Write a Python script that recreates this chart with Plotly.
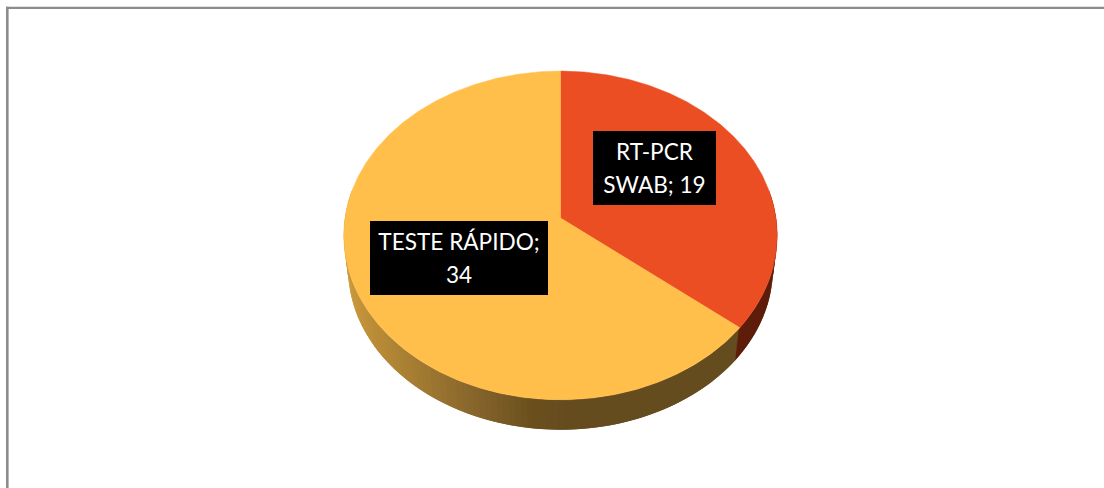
import math
import plotly.graph_objects as go

# ---- data ----
categories = ["RT-PCR SWAB", "TESTE RÁPIDO"]
values = [19, 34]

# ---- style ----
FACE_COLORS = ["#EB4E22", "#FFBF4A"]
RED_SIDE = "#5E1C0A"
GOLD_STOPS = [(345, (204, 153, 62)), (373, (185, 140, 55)), (463, (140, 105, 45)),
              (530, (107, 80, 30)), (565, (101, 76, 31)), (1104, (101, 76, 31))]
BORDER = "#8C8C8C"
CX, KX, A, B, C = 560.5, 215.5, 139.4, 218.0, -0.106
DEPTH_Y, DEPTH_SCALE = 33.6, 0.98
W, H = 1104, 488
LABEL_POS = [(654.5, 168), (459, 258)]
LABEL_SIZE = [(123, 74), (178, 74)]
LABEL_TEXT = ["RT-PCR<br>SWAB; 19", "TESTE RÁPIDO;<br>34"]


def top(theta):
    """Perspective projection of a point on the top rim (theta clockwise from 12 o'clock)."""
    u, v = math.sin(theta), -math.cos(theta)
    d = 1 + C * v
    return CX + KX * u / d, (A * v + B) / d


def bottom(theta):
    x, y = top(theta)
    return CX + (x - CX) * DEPTH_SCALE, B + DEPTH_Y + (y - B) * DEPTH_SCALE


def gold(x):
    for (x0, c0), (x1, c1) in zip(GOLD_STOPS, GOLD_STOPS[1:]):
        if x <= x1:
            t = max(0, (x - x0) / (x1 - x0))
            return "rgb(%d,%d,%d)" % tuple(round(a + (b - a) * t) for a, b in zip(c0, c1))
    return "rgb(101,76,31)"


total = sum(values)
ang = [0.0]
for val in values:
    ang.append(ang[-1] + val / total * 2 * math.pi)

fig = go.Figure()

# side wall, drawn as overlapping thin strips along the front of the rim
STEP = math.radians(1.5)
visible_from, visible_to = math.radians(80), math.radians(280)
th = visible_from
while th < visible_to:
    t1 = min(th + STEP, visible_to)
    mid = (th + t1) / 2
    t_over = min(t1 + STEP, visible_to)
    if mid < ang[1]:
        col = RED_SIDE
    else:
        col = gold((top(th)[0] + top(t1)[0]) / 2)
    ring = [top(th), top(t1), top(t_over), bottom(t_over), bottom(t1), bottom(th), top(th)]
    fig.add_trace(go.Scatter(
        x=[p[0] for p in ring], y=[p[1] for p in ring],
        mode="lines", fill="toself", fillcolor=col,
        line=dict(width=0), hoverinfo="skip", showlegend=False))
    th = t1

# top faces
for i, (name, val) in enumerate(zip(categories, values)):
    n = max(2, int((ang[i + 1] - ang[i]) / math.radians(0.5)))
    pts = [top(ang[i] + (ang[i + 1] - ang[i]) * k / n) for k in range(n + 1)]
    px = [CX] + [p[0] for p in pts] + [CX]
    py = [B] + [p[1] for p in pts] + [B]
    fig.add_trace(go.Scatter(
        x=px, y=py, mode="lines", fill="toself", fillcolor=FACE_COLORS[i],
        line=dict(color=FACE_COLORS[i], width=0.5), name=name,
        text=f"{name}; {val}", hoverinfo="text", showlegend=False))

annotations = []
for txt, (lx, ly), (lw, lh) in zip(LABEL_TEXT, LABEL_POS, LABEL_SIZE):
    styled = "<br>".join(f'<span style="font-size:22.6px">{p}</span>' for p in txt.split("<br>"))
    annotations.append(dict(
        x=lx, y=ly, xref="x", yref="y", text=styled, showarrow=False,
        width=lw, height=lh, bgcolor="#000000", borderpad=0, borderwidth=0,
        align="center", valign="middle", xanchor="center", yanchor="middle",
        font=dict(family="Lato, Carlito, sans-serif", size=26, color="#FFFFFF")))

fig.update_layout(
    width=W, height=H, margin=dict(l=0, r=0, t=0, b=0),
    paper_bgcolor="white", plot_bgcolor="white", showlegend=False,
    xaxis=dict(range=[0, W], visible=False, fixedrange=True),
    yaxis=dict(range=[H, 0], visible=False, fixedrange=True),
    annotations=annotations,
    shapes=[
        dict(type="line", x0=7.3, x1=7.3, y0=6.7, y1=H, line=dict(color=BORDER, width=2.6)),
        dict(type="line", x0=6, x1=W, y0=7.9, y1=7.9, line=dict(color=BORDER, width=2.4)),
    ],
)

fig.write_html("out.html", config={"displayModeBar": False},
               post_script="document.body.style.margin='0';")
